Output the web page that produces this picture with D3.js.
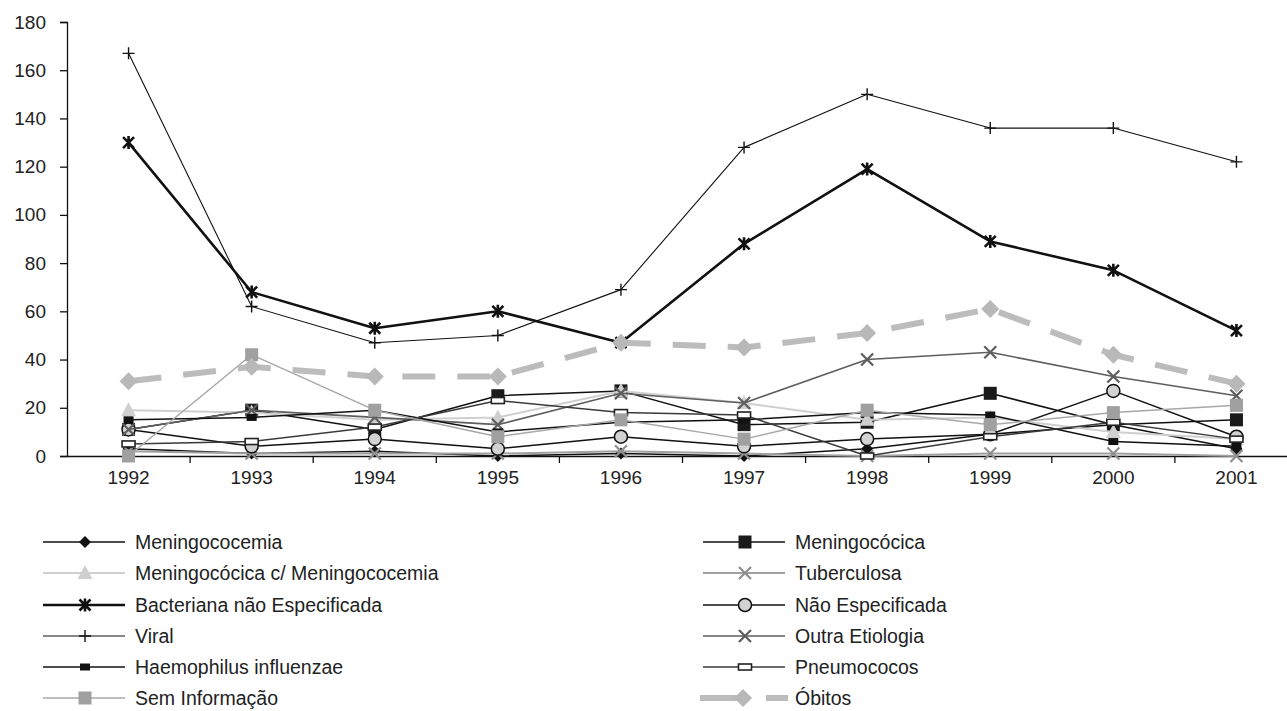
<!DOCTYPE html>
<html>
<head>
<meta charset="utf-8">
<script src="https://cdn.jsdelivr.net/npm/d3@7"></script>
<style>
  body { margin: 0; background: #fff; }
  svg { font-family: "Liberation Sans", Arial, sans-serif; }
</style>
</head>
<body>
<div id="chart"></div>
<script>

// years on the x axis
var years = ["1992","1993","1994","1995","1996","1997","1998","1999","2000","2001"];
var yTicks = [0, 20, 40, 60, 80, 100, 120, 140, 160, 180];

// one array per series
var meningococemia   = [3, 1, 2, 0, 1, 0, 3, 9, 13, 3];
var meningococica    = [11, 19, 11, 25, 27, 13, 14, 26, 13, 15];
var meningoCMeningo  = [19, 18, 15, 16, 27, 22, 15, 16, 10, 7];
var tuberculosa      = [2, 1, 1, 1, 2, 1, 0, 1, 1, 0];
var bacteriana       = [130, 68, 53, 60, 47, 88, 119, 89, 77, 52];
var naoEspecificada  = [11, 4, 7, 3, 8, 4, 7, 9, 27, 8];
var viral            = [167, 62, 47, 50, 69, 128, 150, 136, 136, 122];
var outraEtiologia   = [11, 19, 16, 13, 26, 22, 40, 43, 33, 25];
var haemophilus      = [15, 16, 19, 10, 14, 15, 18, 17, 6, 4];
var pneumococos      = [5, 6, 12, 23, 18, 17, 0, 8, 14, 7];
var semInformacao    = [0, 42, 19, 8, 15, 7, 19, 13, 18, 21];
var obitos           = [31, 37, 33, 33, 47, 45, 51, 61, 42, 30];

var names = ["Meningococemia", "Meningocócica", "Meningocócica c/ Meningococemia", "Tuberculosa",
  "Bacteriana não Especificada", "Não Especificada", "Viral", "Outra Etiologia",
  "Haemophilus influenzae", "Pneumococos", "Sem Informação", "Óbitos"];
var values = [meningococemia, meningococica, meningoCMeningo, tuberculosa, bacteriana, naoEspecificada,
  viral, outraEtiologia, haemophilus, pneumococos, semInformacao, obitos];

// line + marker look for each series (same order as names)
var styles = [
  {stroke: "#111", width: 1.5, marker: "diamond", fill: "#111", mstroke: "none"},
  {stroke: "#111", width: 1.5, marker: "square", fill: "#1a1a1a", mstroke: "none"},
  {stroke: "#cfcfcf", width: 2, marker: "triangle", fill: "#cfcfcf", mstroke: "none"},
  {stroke: "#a0a0a0", width: 2, marker: "x", fill: "none", mstroke: "#8f8f8f"},
  {stroke: "#111", width: 2.6, marker: "asterisk", fill: "none", mstroke: "#111"},
  {stroke: "#111", width: 1.5, marker: "circle", fill: "#d2d2d2", mstroke: "#111"},
  {stroke: "#111", width: 1.1, marker: "plus", fill: "none", mstroke: "#111"},
  {stroke: "#5e5e5e", width: 1.6, marker: "x", fill: "none", mstroke: "#5e5e5e"},
  {stroke: "#111", width: 1.5, marker: "smallrect", fill: "#111", mstroke: "none"},
  {stroke: "#3a3a3a", width: 1.5, marker: "openrect", fill: "#fff", mstroke: "#222"},
  {stroke: "#a8a8a8", width: 1.5, marker: "square", fill: "#a0a0a0", mstroke: "none"},
  {stroke: "#bcbcbc", width: 6, marker: "bigdiamond", fill: "#b8b8b8", mstroke: "none", dash: "33,22"}
];

var W = 1287, H = 711;
var svg = d3.select("#chart").append("svg")
  .attr("width", W)
  .attr("height", H);

var x = d3.scaleBand()
  .domain(years)
  .range([67, 1298])
  .paddingInner(0).paddingOuter(0);

var y = d3.scaleLinear()
  .domain([0, 180])
  .range([456, 22]);

// y axis
var yAxis = svg.append("g")
  .attr("transform", "translate(67,0)")
  .call(d3.axisLeft(y).tickValues(yTicks).tickSize(7).tickPadding(14));
yAxis.select(".domain").attr("stroke", "#111").attr("stroke-width", 1.3);
yAxis.selectAll(".tick line").attr("stroke", "#111").attr("stroke-width", 1.3);
yAxis.selectAll("text").attr("font-size", 19).attr("fill", "#222")
  .attr("font-family", "Liberation Sans, Arial, sans-serif");

// x axis, labels centred in the bands, ticks on band edges
var xAxis = svg.append("g")
  .attr("transform", "translate(0,456)")
  .call(d3.axisBottom(x).tickSize(0).tickPadding(15).tickSizeOuter(0));
xAxis.select(".domain").attr("stroke", "#111").attr("stroke-width", 1.3);
xAxis.selectAll("text").attr("font-size", 19).attr("fill", "#222")
  .attr("font-family", "Liberation Sans, Arial, sans-serif");
svg.append("g").selectAll("line")
  .data(years.slice(1))
  .enter().append("line")
  .attr("x1", function(d) { return x(d); })
  .attr("x2", function(d) { return x(d); })
  .attr("y1", 456).attr("y2", 463)
  .attr("stroke", "#111").attr("stroke-width", 1.3);

var cx = function(i) { return x(years[i]) + x.bandwidth() / 2; };

// marker drawing
var drawMarker = function(g, type, px, py, st) {
  var m;
  if (type == "diamond") {
    m = g.append("path").attr("d", "M0,-6L6,0L0,6L-6,0Z");
  } else if (type == "bigdiamond") {
    m = g.append("path").attr("d", "M0,-9L9,0L0,9L-9,0Z");
  } else if (type == "square") {
    m = g.append("rect").attr("x", -6.5).attr("y", -6.5).attr("width", 13).attr("height", 13);
  } else if (type == "triangle") {
    m = g.append("path").attr("d", "M0,-8L7.5,6L-7.5,6Z");
  } else if (type == "circle") {
    m = g.append("circle").attr("r", 6.5).attr("stroke-width", 1.5);
  } else if (type == "smallrect") {
    m = g.append("rect").attr("x", -5).attr("y", -3.5).attr("width", 10).attr("height", 7);
  } else if (type == "openrect") {
    m = g.append("rect").attr("x", -6.5).attr("y", -3).attr("width", 13).attr("height", 6).attr("stroke-width", 1.6);
  } else if (type == "x") {
    m = g.append("path").attr("d", "M-6,-6L6,6M-6,6L6,-6").attr("stroke-width", 2.2);
  } else if (type == "plus") {
    m = g.append("path").attr("d", "M-6,0L6,0M0,-6L0,6").attr("stroke-width", 1.4);
  } else if (type == "asterisk") {
    m = g.append("path").attr("d", "M-5.5,-5.5L5.5,5.5M-5.5,5.5L5.5,-5.5M0,-6.5L0,6.5").attr("stroke-width", 2.6);
  }
  m.attr("transform", "translate(" + px + "," + py + ")")
    .attr("fill", st.fill)
    .attr("stroke", st.mstroke);
};

var line = d3.line()
  .x(function(d, i) { return cx(i); })
  .y(function(d) { return y(d); });

// plot series in order
for (var s = 0; s < values.length; s++) {
  var g = svg.append("g");
  var st = styles[s];
  g.append("path")
    .datum(values[s])
    .attr("fill", "none")
    .attr("stroke", st.stroke)
    .attr("stroke-width", st.width)
    .attr("stroke-linejoin", "round")
    .style("stroke-dasharray", st.dash ? st.dash : null)
    .attr("d", line);
  for (var i = 0; i < values[s].length; i++) {
    drawMarker(g, st.marker, cx(i), y(values[s][i]), st);
  }
}

// legend, two columns, row-wise order
var leg = svg.append("g");
var colX = [43, 703];
var rowY = [542, 573, 605, 636, 667, 698];
for (var k = 0; k < names.length; k++) {
  var lx = colX[k % 2], ly = rowY[Math.floor(k / 2)];
  var st = styles[k];
  var lg = leg.append("g");
  if (st.dash) {
    lg.append("line").attr("x1", lx - 3).attr("x2", lx + 40).attr("y1", ly).attr("y2", ly)
      .attr("stroke", st.stroke).attr("stroke-width", st.width);
    lg.append("line").attr("x1", lx + 63).attr("x2", lx + 85).attr("y1", ly).attr("y2", ly)
      .attr("stroke", st.stroke).attr("stroke-width", st.width);
  } else {
    lg.append("line").attr("x1", lx).attr("x2", lx + 82).attr("y1", ly).attr("y2", ly)
      .attr("stroke", st.stroke).attr("stroke-width", st.width);
  }
  drawMarker(lg, st.marker, lx + (st.dash ? 40 : 42), ly, st);
  lg.append("text")
    .attr("x", lx + 92)
    .attr("y", ly + 6.5)
    .attr("font-size", 19.5)
    .attr("fill", "#222")
    .text(names[k]);
}

</script>
</body>
</html>
